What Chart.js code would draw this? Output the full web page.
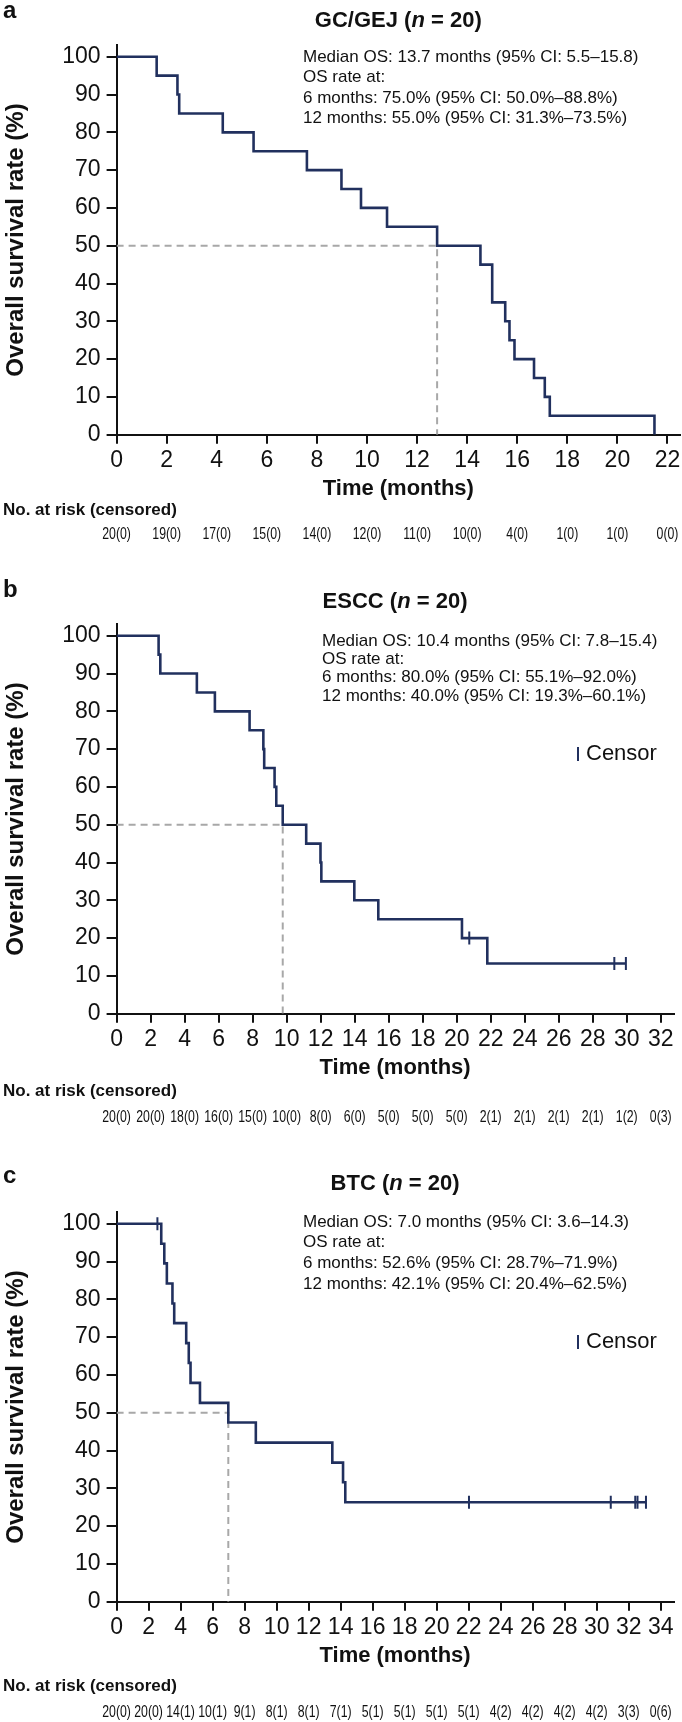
<!DOCTYPE html>
<html>
<head>
<meta charset="utf-8">
<script src="https://cdn.jsdelivr.net/npm/chart.js@4.4.1/dist/chart.umd.min.js"></script>
<style>
  body { margin: 0; background: #fff; }
  .panel { position: absolute; left: 0; width: 682px; height: 555px; }
</style>
</head>
<body>
<div class="panel" style="top:0px"><canvas id="chartA" width="682" height="555"></canvas></div>
<div class="panel" style="top:579px"><canvas id="chartB" width="682" height="555"></canvas></div>
<div class="panel" style="top:1167px"><canvas id="chartC" width="682" height="555"></canvas></div>
<script>
// Shared y ticks (overall survival, %)
const yTicks = [0, 10, 20, 30, 40, 50, 60, 70, 80, 90, 100];

// a: GC/GEJ
const gcTicks = [0, 2, 4, 6, 8, 10, 12, 14, 16, 18, 20, 22];
const gcTime = [0, 1.6, 2.43, 2.5, 4.24, 5.47, 7.6, 8.98, 9.76, 10.8, 12.8, 14.53, 15.0, 15.52, 15.69, 15.89, 16.67, 17.1, 17.3, 21.48];
const gcSurv = [100, 95, 90, 85, 80, 75, 70, 65, 60, 55, 50, 45, 35, 30, 25, 20, 15, 10, 5, 0];
const gcCensorTime = [];
const gcCensorSurv = [];
const gcMedian = 12.8;
const gcRisk = ['20(0)', '19(0)', '17(0)', '15(0)', '14(0)', '12(0)', '11(0)', '10(0)', '4(0)', '1(0)', '1(0)', '0(0)'];
const gcStats = [
  'Median OS: 13.7 months (95% CI: 5.5\u201315.8)',
  'OS rate at:',
  '6 months: 75.0% (95% CI: 50.0%\u201388.8%)',
  '12 months: 55.0% (95% CI: 31.3%\u201373.5%)'
];

// b: ESCC
const esccTicks = [0, 2, 4, 6, 8, 10, 12, 14, 16, 18, 20, 22, 24, 26, 28, 30, 32];
const esccTime = [0, 2.47, 2.57, 4.72, 5.78, 7.82, 8.63, 8.68, 9.29, 9.39, 9.77, 11.15, 11.99, 12.04, 13.98, 15.39, 20.31, 21.8, 29.95];
const esccSurv = [100, 95, 90, 85, 80, 75, 70, 65, 60, 55, 50, 45, 40, 35, 30, 25, 20, 13.3, 13.3];
const esccCensorTime = [20.74, 29.27, 29.95];
const esccCensorSurv = [20, 13.3, 13.3];
const esccMedian = 9.77;
const esccRisk = ['20(0)', '20(0)', '18(0)', '16(0)', '15(0)', '10(0)', '8(0)', '6(0)', '5(0)', '5(0)', '5(0)', '2(1)', '2(1)', '2(1)', '2(1)', '1(2)', '0(3)'];
const esccStats = [
  'Median OS: 10.4 months (95% CI: 7.8\u201315.4)',
  'OS rate at:',
  '6 months: 80.0% (95% CI: 55.1%\u201392.0%)',
  '12 months: 40.0% (95% CI: 19.3%\u201360.1%)'
];

// c: BTC
const btcTicks = [0, 2, 4, 6, 8, 10, 12, 14, 16, 18, 20, 22, 24, 26, 28, 30, 32, 34];
const btcTime = [0, 2.79, 2.98, 3.14, 3.49, 3.6, 4.35, 4.51, 4.62, 5.21, 6.98, 8.7, 13.48, 14.15, 14.29, 33.08];
const btcSurv = [100, 94.7, 89.5, 84.2, 78.9, 73.7, 68.4, 63.2, 57.9, 52.6, 47.4, 42.1, 36.8, 31.6, 26.3, 26.3];
const btcCensorTime = [2.55, 22.02, 30.88, 32.41, 32.55, 33.08];
const btcCensorSurv = [100, 26.3, 26.3, 26.3, 26.3, 26.3];
const btcMedian = 6.98;
const btcRisk = ['20(0)', '20(0)', '14(1)', '10(1)', '9(1)', '8(1)', '8(1)', '7(1)', '5(1)', '5(1)', '5(1)', '5(1)', '4(2)', '4(2)', '4(2)', '4(2)', '3(3)', '0(6)'];
const btcStats = [
  'Median OS: 7.0 months (95% CI: 3.6\u201314.3)',
  'OS rate at:',
  '6 months: 52.6% (95% CI: 28.7%\u201371.9%)',
  '12 months: 42.1% (95% CI: 20.4%\u201362.5%)'
];

const NAVY = '#21305e';
const DASH = '#a8a8a8';
const INK = '#111111';
const FONT = '"Liberation Sans", Arial, sans-serif';

// Draws the panel letter, title, stats text, risk table and censor key
function panelText(p) {
  return {
    id: 'panelText',
    afterDraw(chart) {
      const ctx = chart.ctx;
      const area = chart.chartArea;
      const xs = chart.scales.x;
      ctx.save();
      ctx.fillStyle = INK;

      ctx.font = `bold 24px ${FONT}`;
      ctx.textAlign = 'left';
      ctx.textBaseline = 'alphabetic';
      ctx.fillText(p.letter, 3, p.letterY);

      // title, with italic n
      const parts = [
        { text: p.title + ' (', font: `bold 22px ${FONT}` },
        { text: 'n', font: `italic bold 22px ${FONT}` },
        { text: ' = 20)', font: `bold 22px ${FONT}` }
      ];
      let total = 0;
      parts.forEach(pt => { ctx.font = pt.font; pt.w = ctx.measureText(pt.text).width; total += pt.w; });
      let tx = (area.left + area.right) / 2 - total / 2;
      parts.forEach(pt => { ctx.font = pt.font; ctx.fillText(pt.text, tx, p.titleY); tx += pt.w; });

      ctx.font = `17px ${FONT}`;
      ctx.textBaseline = 'middle';
      p.stats.forEach((s, i) => ctx.fillText(s, p.statsX, p.statsY + i * p.statsGap));

      ctx.font = `bold 17px ${FONT}`;
      ctx.fillText('No. at risk (censored)', 3, p.riskHeadY);

      // numbers at risk, squeezed like a condensed face
      ctx.font = `15px ${FONT}`;
      ctx.textAlign = 'center';
      p.risk.forEach((r, i) => {
        ctx.save();
        ctx.translate(xs.getPixelForValue(p.ticks[i]), p.riskY);
        ctx.scale(0.82, 1.05);
        ctx.fillText(r, 0, 0);
        ctx.restore();
      });

      if (p.censorKey) {
        ctx.strokeStyle = NAVY;
        ctx.lineWidth = 2;
        ctx.beginPath();
        ctx.moveTo(578, 168);
        ctx.lineTo(578, 182);
        ctx.stroke();
        ctx.textAlign = 'left';
        ctx.font = `22px ${FONT}`;
        ctx.fillText('Censor', 586, 175);
      }
      ctx.restore();
    }
  };
}

function makeChart(canvasId, p) {
  const curve = p.time.map((t, i) => ({ x: t, y: p.surv[i] }));
  const censors = p.censorTime.map((t, i) => ({ x: t, y: p.censorSurv[i] }));
  const medianLine = [{ x: 0, y: 50 }, { x: p.median, y: 50 }, { x: p.median, y: 0 }];

  return new Chart(document.getElementById(canvasId), {
    type: 'line',
    data: {
      datasets: [
        { data: medianLine, borderColor: DASH, borderWidth: 2, borderDash: [7, 5], pointRadius: 0, order: 3 },
        { data: curve, stepped: 'before', borderColor: NAVY, borderWidth: 2.6, pointRadius: 0, order: 2 },
        {
          data: censors, showLine: false, pointStyle: 'line', pointRotation: 90, pointRadius: 6.5,
          pointBorderColor: NAVY, pointBorderWidth: 2, order: 1
        }
      ]
    },
    options: {
      responsive: false,
      animation: false,
      events: [],
      layout: { padding: { left: 1.6, top: 45.4, right: 2, bottom: 53.3 } },
      plugins: { legend: { display: false }, tooltip: { enabled: false } },
      scales: {
        x: {
          type: 'linear',
          min: 0,
          max: p.xMax,
          afterBuildTicks: s => { s.ticks = p.ticks.map(v => ({ value: v })); },
          afterFit: s => { s.height = 67; s.paddingLeft = 0; s.paddingRight = 0; },
          grid: { drawOnChartArea: false, tickLength: 9, color: INK, lineWidth: 2 },
          border: { color: INK, width: 2 },
          ticks: { padding: 3, color: INK, maxRotation: 0, autoSkip: false, font: { family: FONT, size: 23 } },
          title: { display: true, text: 'Time (months)', color: INK, padding: 0, font: { family: FONT, size: 22, weight: 'bold' } }
        },
        y: {
          min: 0,
          max: 103,
          afterBuildTicks: s => { s.ticks = yTicks.map(v => ({ value: v })); },
          afterFit: s => { s.width = 115; },
          grid: { drawOnChartArea: false, tickLength: 10, color: INK, lineWidth: 2 },
          border: { color: INK, width: 2 },
          ticks: { padding: 6, color: INK, font: { family: FONT, size: 23 } },
          title: { display: true, text: 'Overall survival rate (%)', color: INK, padding: 0, font: { family: FONT, size: 24, weight: 'bold' } }
        }
      }
    },
    plugins: [panelText(p)]
  });
}

makeChart('chartA', {
  letter: 'a', letterY: 18, title: 'GC/GEJ', titleY: 26.5,
  time: gcTime, surv: gcSurv, censorTime: gcCensorTime, censorSurv: gcCensorSurv,
  median: gcMedian, ticks: gcTicks, xMax: 22.5, risk: gcRisk,
  stats: gcStats, statsX: 303, statsY: 57, statsGap: 20.5,
  riskHeadY: 510, riskY: 535, censorKey: false
});

makeChart('chartB', {
  letter: 'b', letterY: 18, title: 'ESCC', titleY: 29,
  time: esccTime, surv: esccSurv, censorTime: esccCensorTime, censorSurv: esccCensorSurv,
  median: esccMedian, ticks: esccTicks, xMax: 32.75, risk: esccRisk,
  stats: esccStats, statsX: 322, statsY: 62, statsGap: 18.3,
  riskHeadY: 512, riskY: 539, censorKey: true
});

makeChart('chartC', {
  letter: 'c', letterY: 16, title: 'BTC', titleY: 22.5,
  time: btcTime, surv: btcSurv, censorTime: btcCensorTime, censorSurv: btcCensorSurv,
  median: btcMedian, ticks: btcTicks, xMax: 34.8, risk: btcRisk,
  stats: btcStats, statsX: 303, statsY: 55, statsGap: 20.7,
  riskHeadY: 519, riskY: 545.5, censorKey: true
});
</script>
</body>
</html>
